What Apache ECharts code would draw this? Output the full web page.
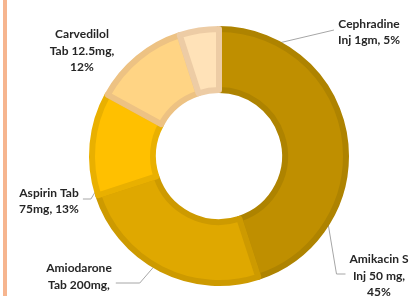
<!DOCTYPE html>
<html>
<head>
<meta charset="utf-8">
<script src="https://cdn.jsdelivr.net/npm/echarts@6/dist/echarts.min.js"></script>
<style>
  html, body { margin: 0; padding: 0; background: #fff; }
  #chart { width: 419px; height: 296px; }
</style>
</head>
<body>
<div id="chart"></div>
<script>
// data
const drugs = ['Amikacin S\nInj 50 mg', 'Amiodarone\nTab 200mg', 'Aspirin Tab\n75mg', 'Carvedilol\nTab 12.5mg', 'Cephradine\nInj 1gm']
const shares = [45, 25, 13, 12, 5]
const percentOnNewLine = [true, true, false, true, false]

// look
const fills = ['#BF8F00', '#DFA800', '#FFC000', '#FFD484', '#FFE2B8']
const outlines = ['#AE8300', '#CD9A00', '#E9B000', '#EDC283', '#EDCCA5']
const center = [219, 156]
const innerR = 66
const outerR = 127

// where each label sits (centre), which side the leader enters, horizontal tail length
const labelSpots = [
  { x: 379, y: 276, side: 'left', tail: 9 },
  { x: 79, y: 285, side: 'right', tail: 24 },
  { x: 49, y: 201, side: 'right', tail: 8 },
  { x: 82, y: 51, side: null, tail: 0 },
  { x: 369, y: 32, side: 'left', tail: 0 },
]

const total = shares.reduce((a, b) => a + b, 0)
const midAngle = (i) => {
  const before = shares.slice(0, i).reduce((a, b) => a + b, 0)
  return ((before + shares[i] / 2) / total) * Math.PI * 2
}

const chart = echarts.init(document.getElementById('chart'))

chart.setOption({
  animation: false,
  graphic: [
    {
      type: 'rect',
      shape: { x: 3, y: 0, width: 4, height: 296 },
      style: { fill: '#F6B58F' },
      silent: true,
    },
  ],
  series: [
    {
      type: 'pie',
      center: center,
      radius: [innerR, outerR],
      startAngle: 90,
      clockwise: true,
      avoidLabelOverlap: false,
      emphasis: { disabled: true },
      itemStyle: { borderWidth: 6 },
      label: {
        show: true,
        position: 'outside',
        fontFamily: 'Lato',
        fontWeight: 'bold',
        fontSize: 12,
        lineHeight: 16.5,
        color: '#262626',
        align: 'center',
        formatter: (p) => p.name + ',' + (percentOnNewLine[p.dataIndex] ? '\n' : ' ') + p.value + '%',
      },
      labelLine: {
        show: true,
        lineStyle: { color: '#A6A6A6', width: 1 },
      },
      labelLayout: (params) => {
        const i = params.dataIndex
        const spot = labelSpots[i]
        const out = { x: spot.x, y: spot.y, align: 'center', verticalAlign: 'middle' }
        if (spot.side) {
          const a = midAngle(i)
          const r = (innerR + outerR) / 2
          const start = [center[0] + r * Math.sin(a), center[1] - r * Math.cos(a)]
          const half = params.labelRect.width / 2
          const dir = spot.side === 'left' ? -1 : 1
          const edgeX = spot.x + dir * (half + 4)
          const lineY = spot.y - 2
          out.labelLinePoints = [start, [edgeX + dir * spot.tail, lineY], [edgeX, lineY]]
        }
        return out
      },
      data: drugs.map((name, i) => ({
        name: name,
        value: shares[i],
        itemStyle: { color: fills[i], borderColor: outlines[i] },
        labelLine: { show: labelSpots[i].side !== null },
      })),
    },
  ],
})
</script>
</body>
</html>
